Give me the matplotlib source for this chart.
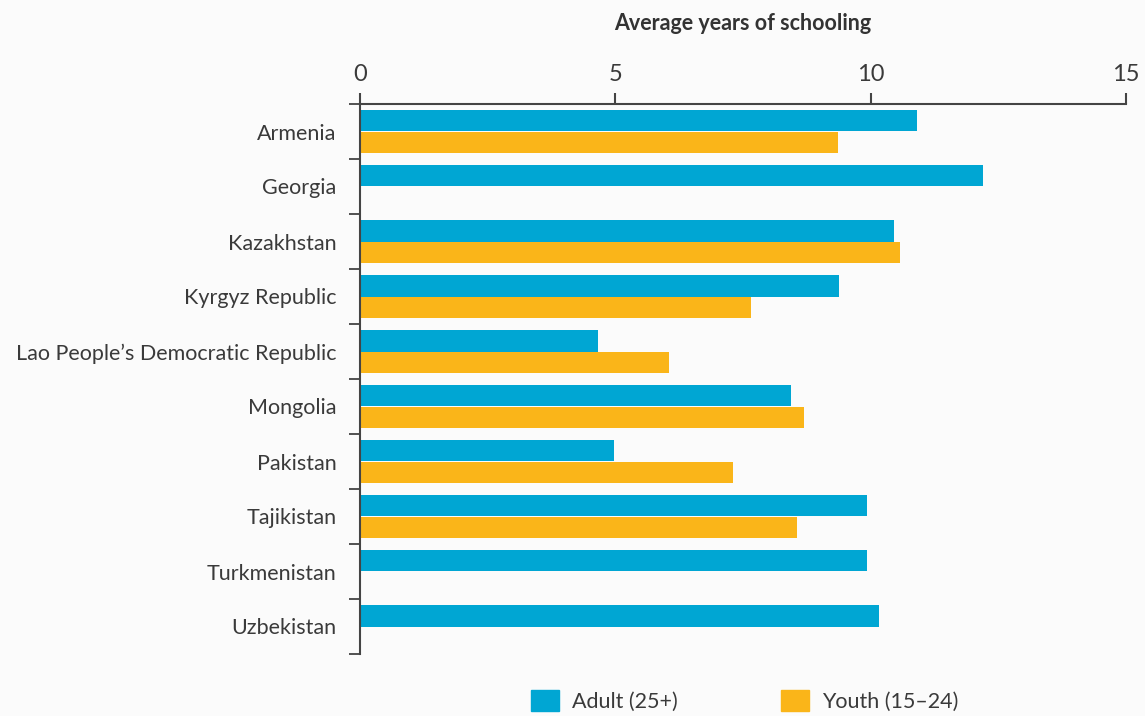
import matplotlib
matplotlib.use("Agg")
import matplotlib.pyplot as plt
import numpy as np
from matplotlib.patches import Patch

countries = ["Armenia", "Georgia", "Kazakhstan", "Kyrgyz Republic",
             "Lao People\u2019s Democratic Republic", "Mongolia", "Pakistan",
             "Tajikistan", "Turkmenistan", "Uzbekistan"]
adult = [10.9, 12.2, 10.45, 9.38, 4.66, 8.44, 4.97, 9.93, 9.93, 10.16]
youth = [9.36, np.nan, 10.57, 7.66, 6.05, 8.69, 7.30, 8.56, np.nan, np.nan]
xticks = [0, 5, 10, 15]

blue = "#00A6D3"
yellow = "#FAB519"
txt = "#3a3a3a"
bg = "#FBFBFB"

plt.rcParams["font.family"] = ["Lato", "DejaVu Sans"]

fig = plt.figure(figsize=(11.45, 7.16), dpi=100, facecolor=bg)
ax = fig.add_axes([360/1145, 1-654/716, (1126-360)/1145, (654-104)/716])
ax.set_facecolor(bg)

n = len(countries)
y = np.arange(n)
h = 0.39
ax.barh(y - h/2, adult, height=h, color=blue, label="Adult (25+)")
ax.barh(y + h/2, youth, height=h, color=yellow, label="Youth (15\u201324)")

ax.set_xlim(0, 15)
ax.set_ylim(n - 0.5, -0.5)
ax.xaxis.tick_top()
ax.xaxis.set_label_position("top")
ax.set_xticks(xticks)
ax.set_xticklabels([str(v) for v in xticks])
ax.tick_params(axis="x", direction="out", length=8, width=1.5, color="#444444",
               labelsize=17, labelcolor=txt, pad=6)
ax.set_xlabel("Average years of schooling", fontsize=15.5, fontweight="bold",
              color="#333333", labelpad=24)

ax.set_yticks(np.arange(-0.5, n, 1.0))
ax.set_yticklabels([])
ax.set_yticks(y, minor=True)
ax.set_yticklabels(countries, minor=True)
ax.tick_params(axis="y", which="major", direction="out", length=8, width=1.3, color="#444444")
ax.tick_params(axis="y", which="minor", length=0, labelsize=15.5, labelcolor=txt, pad=17)

for s in ["right", "bottom"]:
    ax.spines[s].set_visible(False)
for s in ["top", "left"]:
    ax.spines[s].set_color("#444444")
    ax.spines[s].set_linewidth(1.5)

handles = [Patch(color=blue), Patch(color=yellow)]
fig.legend(handles, ["Adult (25+)", "Youth (15\u201324)"], loc="center",
           bbox_to_anchor=(745/1145, 1-701/716), ncol=2, frameon=False,
           fontsize=15.5, labelcolor=txt, handlelength=1.3, handleheight=1.1,
           columnspacing=4.8, handletextpad=0.6)

fig.savefig("out.png", dpi=100, facecolor=bg)
